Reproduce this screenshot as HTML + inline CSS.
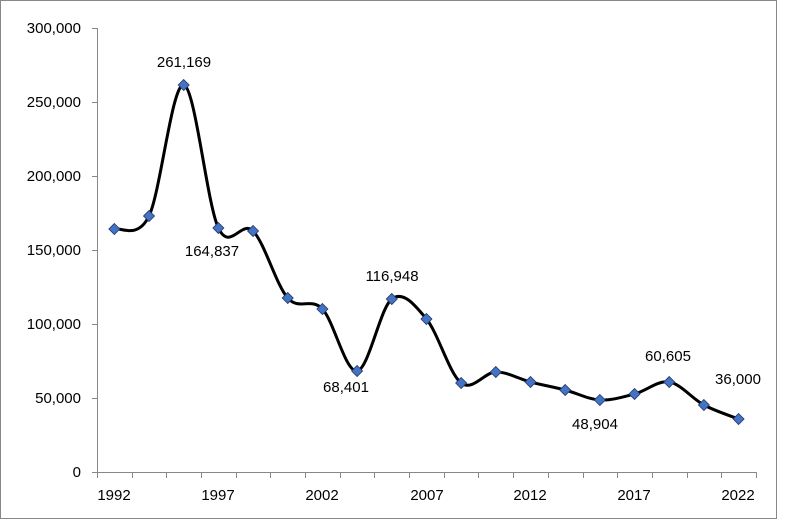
<!DOCTYPE html>
<html><head><meta charset="utf-8"><style>
html,body{margin:0;padding:0;background:#fff}
svg{display:block}
text{font-family:"Liberation Sans",Calibri,sans-serif;font-size:15px;fill:#000}
</style></head><body>
<svg id="c" width="788" height="529" viewBox="0 0 788 529">
<rect x="0.5" y="0.5" width="776" height="518" fill="#fff" stroke="#888"/>
<g stroke="#888" stroke-width="1" fill="none" id="axes">
<line x1="97.5" y1="28" x2="97.5" y2="472.5"/>
<line x1="97" y1="472.5" x2="756" y2="472.5"/>
</g>
<g text-anchor="end">
<text x="81" y="33">300,000</text>
<text x="81" y="107">250,000</text>
<text x="81" y="181">200,000</text>
<text x="81" y="255">150,000</text>
<text x="81" y="329">100,000</text>
<text x="81" y="403">50,000</text>
<text x="81" y="477">0</text>
</g>
<g text-anchor="middle">
<text x="114" y="500">1992</text>
<text x="218" y="500">1997</text>
<text x="322" y="500">2002</text>
<text x="427" y="500">2007</text>
<text x="530" y="500">2012</text>
<text x="634" y="500">2017</text>
<text x="738" y="500">2022</text>
<text x="184" y="67">261,169</text>
<text x="212" y="256">164,837</text>
<text x="346" y="392">68,401</text>
<text x="392" y="281">116,948</text>
<text x="595" y="429">48,904</text>
<text x="668" y="361">60,605</text>
<text x="738" y="384">36,000</text>
</g>
<path id="line" fill="none" stroke="#000" stroke-width="3"/>
<g id="marks"></g>
</svg>
<script>
var w=34.68,x0=97;
var ys=[229,216,85,228,231,298,309,371,299,319,383,372,382,390,400,394,382,405,419];
var g=document.getElementById('axes');
var s='';
for(var i=0;i<=19;i++){var x=Math.round(x0+i*w)+0.5;s+='<line x1="'+x+'" y1="472" x2="'+x+'" y2="478"/>';}
for(var j=0;j<=6;j++){var y=472-j*74+0.5;s+='<line x1="92" y1="'+y+'" x2="97" y2="'+y+'"/>';}
g.innerHTML+=s;
var p=ys.map(function(y,i){return [x0+(i+0.5)*w,y];});
var d='M'+p[0][0]+','+p[0][1];
for(var i=0;i<p.length-1;i++){
 var a=p[i-1]||p[i],b=p[i],c=p[i+1],e=p[i+2]||c,t=1/6;
 d+=' C'+(b[0]+(c[0]-a[0])*t)+','+(b[1]+(c[1]-a[1])*t)+' '+(c[0]-(e[0]-b[0])*t)+','+(c[1]-(e[1]-b[1])*t)+' '+c[0]+','+c[1];
}
document.getElementById('line').setAttribute('d',d);
var m='';
p.forEach(function(q){m+='<path d="M'+q[0]+','+(q[1]-5.5)+' l5.5,5.5 l-5.5,5.5 l-5.5,-5.5z" fill="#4472c4" stroke="#1f3864" stroke-width="0.8"/>';});
document.getElementById('marks').innerHTML=m;
</script>
</body></html>
